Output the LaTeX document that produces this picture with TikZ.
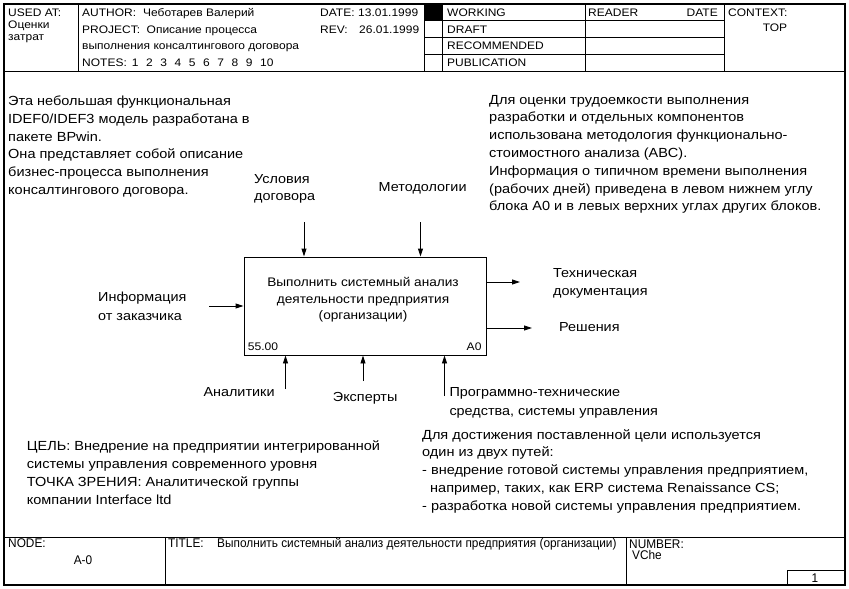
\documentclass[tikz,border=0pt]{standalone}
\usepackage{fontspec}
\setmainfont{Liberation Sans}[FakeStretch=1.1]
\newfontfamily\footfont{Liberation Sans}[FakeStretch=0.94]
\usetikzlibrary{arrows.meta}

\begin{document}
\begin{tikzpicture}[
    x=1pt, y=-1pt,
    frame/.style={line width=1.2pt},
    grid/.style={line width=0.9pt},
    hdr/.style={anchor=base west, inner sep=0pt, align=left, font=\fontsize{10.9}{12.5}\selectfont},
    txt/.style={anchor=base west, inner sep=0pt, align=left, font=\fontsize{13.2}{17.8}\selectfont},
    lbl/.style={anchor=base west, inner sep=0pt, align=left, font=\fontsize{13.1}{18}\selectfont},
    ftr/.style={anchor=base west, inner sep=0pt, font=\footfont\fontsize{12.6}{13}\selectfont},
    fnbox/.style={draw, line width=0.9pt, minimum width=242pt, minimum height=98pt, inner sep=0pt},
    flow/.style={line width=0.9pt, -{Triangle[length=8pt,width=5pt]}}
]
\useasboundingbox (0,0) rectangle (849,589);

% Define frame
\draw[frame] (4,4) rectangle (845,585);
\draw[grid] (4,71) -- (845,71);
\draw[grid] (4,537) -- (845,537);
\draw[grid] (78,4) -- (78,71);
\draw[grid] (424,4) -- (424,71);
\draw[grid] (442,4) -- (442,71);
\draw[grid] (585,4) -- (585,71);
\draw[grid] (724,4) -- (724,71);
\draw[grid] (424,20.7) -- (724,20.7);
\draw[grid] (424,37.3) -- (724,37.3);
\draw[grid] (424,54) -- (724,54);
\fill (424,4) rectangle (442,20.7);
\draw[grid] (165,537) -- (165,585);
\draw[grid] (626,537) -- (626,585);
\draw[grid] (787,585) -- (787,570) -- (845,570);

% Define header texts (base of a multi-line node = its last line)
\node[hdr] (usedat) at (8,16.5) {USED AT:};
\node[hdr] (usedval) at (8,40.5) {Оценки\\затрат};
\node[hdr] (author) at (82,16.7) {AUTHOR:};
\node[hdr] (authorval) at (143,16.7) {Чеботарев Валерий};
\node[hdr] (project) at (82,33.3) {PROJECT:};
\node[hdr] (projectval) at (146.5,33.3) {Описание процесса};
\node[hdr] (projectval2) at (82,49.5) {выполнения консалтингового договора};
\node[hdr] (notes) at (82,66.5) {NOTES:\hspace{5pt}1\hspace{7.6pt}2\hspace{7.6pt}3\hspace{7.6pt}4\hspace{7.6pt}5\hspace{7.6pt}6\hspace{7.6pt}7\hspace{7.6pt}8\hspace{7.6pt}9\hspace{7.6pt}10};
\node[hdr] (date) at (320,16.7) {DATE:};
\node[hdr] (dateval) at (358,16.7) {13.01.1999};
\node[hdr] (rev) at (320,33.3) {REV:};
\node[hdr] (revval) at (359,33.3) {26.01.1999};
\node[hdr] (working) at (447,16.5) {WORKING};
\node[hdr] (draft) at (447,33) {DRAFT};
\node[hdr] (recommended) at (447,49.5) {RECOMMENDED};
\node[hdr] (publication) at (447,66.3) {PUBLICATION};
\node[hdr] (reader) at (588,16.7) {READER};
\node[hdr, anchor=base east] (readerdate) at (718,16.7) {DATE};
\node[hdr] (context) at (728,16.7) {CONTEXT:};
\node[hdr, anchor=base] (top) at (775,31.7) {TOP};

% Define notes
\node[txt] (intro) at (8,194.5) {Эта небольшая функциональная\\IDEF0/IDEF3 модель разработана в\\пакете BPwin.\\Она представляет собой описание\\бизнес-процесса выполнения\\консалтингового договора.};
\node[txt] (abc) at (489,210.8) {Для оценки трудоемкости выполнения\\разработки и отдельных компонентов\\использована методология функционально-\\стоимостного анализа (ABC).\\Информация о типичном времени выполнения\\(рабочих дней) приведена в левом нижнем углу\\блока А0 и в левых верхних углах других блоков.};
\node[txt] (goal) at (26.7,504.1) {ЦЕЛЬ: Внедрение на предприятии интегрированной\\системы управления современного уровня\\ТОЧКА ЗРЕНИЯ: Аналитической группы\\компании Interface ltd};
\node[txt] (ways) at (422,510.2) {Для достижения поставленной цели используется\\один из двух путей:\\- внедрение готовой системы управления предприятием,\\\hspace*{8pt}например, таких, как ERP система Renaissance CS;\\- разработка новой системы управления предприятием.};

% Define function block
\node[fnbox] (fn) at (365,306) {};
\node[lbl, anchor=base, align=center, font=\fontsize{12.4}{16.3}\selectfont] (fntext) at (363,319.3) {Выполнить системный анализ\\деятельности предприятия\\(организации)};
\node[hdr, font=\fontsize{11}{12}\selectfont] (cost) at (247.7,350.7) {55.00};
\node[hdr, anchor=base east, font=\fontsize{11}{12}\selectfont] (fnnum) at (481.7,350.7) {A0};

% Define arrow ends
\coordinate (ctrl1) at (304,222);
\coordinate (ctrl2) at (420.5,222);
\coordinate (in1) at (209,306);
\coordinate (out1) at (520,282);
\coordinate (out2) at (532,328);
\coordinate (mech1) at (285.5,389);
\coordinate (mech2) at (363,381);
\coordinate (mech3) at (444.5,396);

% Define arrows
\draw[flow] (ctrl1) -- (ctrl1 |- fn.north);
\draw[flow] (ctrl2) -- (ctrl2 |- fn.north);
\draw[flow] (in1) -- (in1 -| fn.west);
\draw[flow] (out1 -| fn.east) -- (out1);
\draw[flow] (out2 -| fn.east) -- (out2);
\draw[flow] (mech1) -- (mech1 |- fn.south);
\draw[flow] (mech2) -- (mech2 |- fn.south);
\draw[flow] (mech3) -- (mech3 |- fn.south);

% Define arrow labels
\node[lbl, font=\fontsize{13.1}{17}\selectfont] (terms) at (254,200.3) {Условия\\договора};
\node[lbl] (methods) at (378.5,191.7) {Методологии};
\node[lbl, font=\fontsize{13.1}{18.3}\selectfont] (clientinfo) at (98,320) {Информация\\от заказчика};
\node[lbl, font=\fontsize{13.1}{17.7}\selectfont] (techdoc) at (553,295) {Техническая\\документация};
\node[lbl] (decisions) at (559,331) {Решения};
\node[lbl] (analysts) at (203.3,396) {Аналитики};
\node[lbl] (experts) at (332.7,401.7) {Эксперты};
\node[lbl, font=\fontsize{13.1}{18.3}\selectfont] (tools) at (449.3,415) {Программно-технические\\средства, системы управления};

% Define footer texts
\node[ftr] (node) at (8,547) {NODE:};
\node[ftr, anchor=base] (nodeval) at (83,564) {A-0};
\node[ftr] (title) at (168,547) {TITLE:};
\node[ftr] (titleval) at (217,547) {Выполнить системный анализ деятельности предприятия (организации)};
\node[ftr] (number) at (629,548) {NUMBER:};
\node[ftr] (numberval) at (632,559) {VChe};
\node[ftr, anchor=base] (page) at (815,582) {1};

\end{tikzpicture}
\end{document}
